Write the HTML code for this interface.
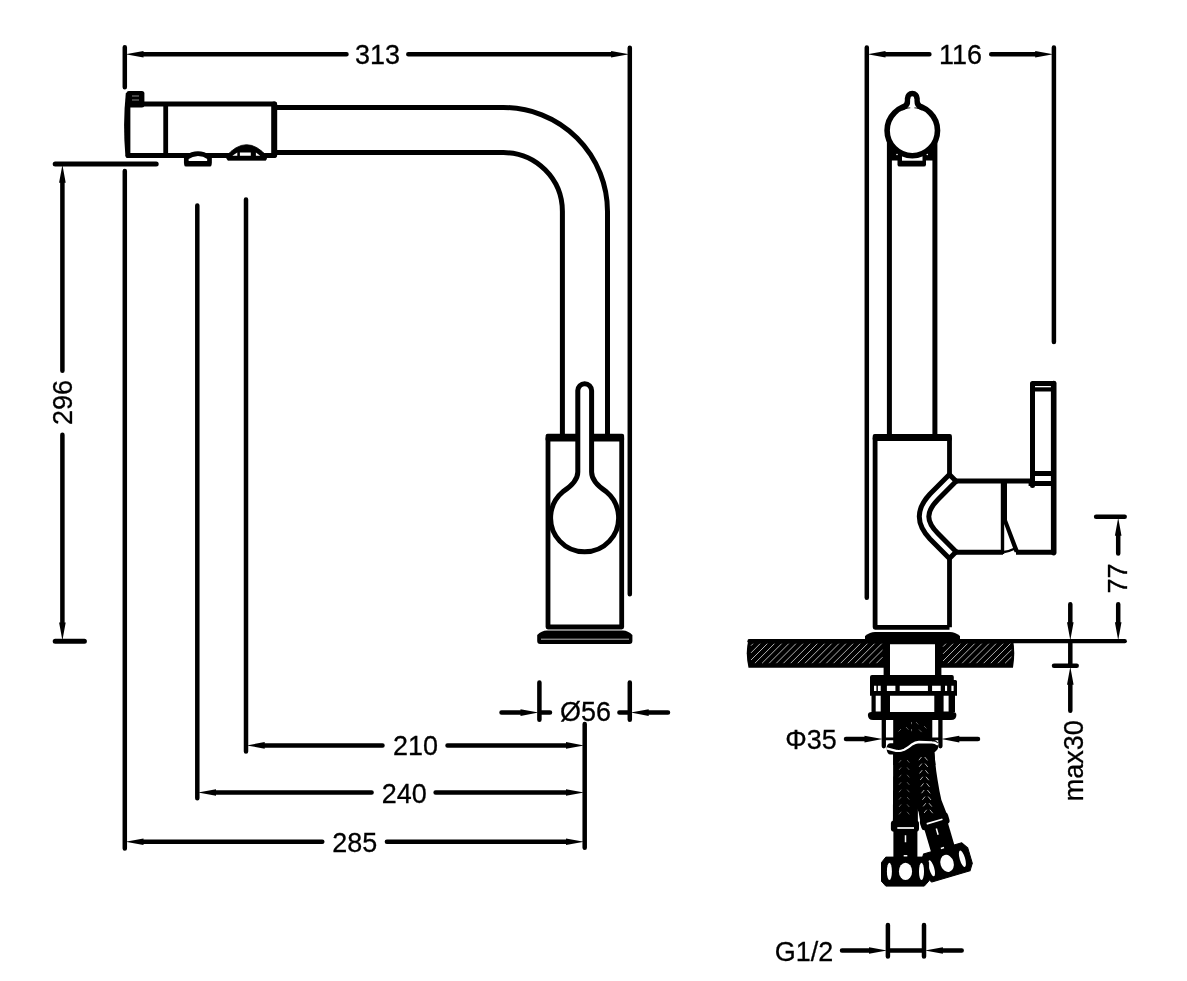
<!DOCTYPE html>
<html lang="en">
<head>
<meta charset="utf-8">
<title>Faucet dimensions</title>
<style>
html,body{margin:0;padding:0;background:#fff;}
body{width:1187px;height:981px;overflow:hidden;}
svg{display:block;filter:grayscale(1);}
.l{stroke:#000;stroke-linecap:round;stroke-linejoin:round;}
.b{stroke:#000;stroke-linecap:butt;stroke-linejoin:round;}
.k{fill:#000;stroke:none;}
.d{stroke-width:4.5;}
.w{fill:#fff;stroke:none;}
text{font-family:"Liberation Sans",sans-serif;font-size:28.4px;fill:#000;stroke:#000;stroke-width:.3;}
</style>
</head>
<body>
<svg width="1187" height="981" viewBox="0 0 1187 981" fill="none" stroke-width="4.8">
<rect width="1187" height="981" fill="#fff"/>

<!-- ============ LEFT VIEW ============ -->
<g id="dim313">
  <path class="l d" d="M124.8,47.2V87.3 M629.8,47.8V594.3 M142,54.2H346.5 M408.3,54.2H612.6"/>
  <path class="k" d="M125.5,54.2l18,-3.3v6.6Z M629.1,54.2l-18,-3.3v6.6Z"/>
  <text transform="translate(377.6,63.5) scale(.95,1)" text-anchor="middle">313</text>
</g>

<g id="extlines">
  <path class="l d" d="M124.8,171V848.5 M197.3,205.5V798.3 M246,199.5V751.4 M584.7,724V847.8"/>
</g>

<g id="dim296">
  <path class="l" stroke-width="5" d="M55.2,164H156.2 M55.2,641.3H84.4"/>
  <path class="l d" d="M62.4,182V370.8 M62.4,434.8V623.3"/>
  <path class="k" d="M62.4,164.7l3.3,18h-6.6Z M62.4,640.6l3.3,-18h-6.6Z"/>
  <text transform="translate(72,402.5) rotate(-90) scale(.95,1)" text-anchor="middle">296</text>
</g>

<g id="spray">
  <rect class="k" x="126.4" y="91" width="18" height="16.4" rx="2.5"/>
  <path d="M132,96H139 M132,100H139" stroke="#888" stroke-width="1" fill="none"/>
  <path class="l" d="M128,155.5H274.5V104H144" stroke-width="4.8"/>
  <path class="k" d="M125.8,93Q122.6,125 125.4,156Q125.6,157.9 127.5,157.9H130.4V93Z"/>
  <path class="b" d="M165.7,104V155.4"/>
  <path class="l" stroke-width="6" d="M274.2,104.6V154.9"/>
  <!-- tube -->
  <path class="b" stroke-width="5" d="M276,107.5H503.5A104,104 0 0 1 607.5,211.5V436"/>
  <path class="b" stroke-width="5" d="M276,152.6H503.5A58.9,58.9 0 0 1 562.4,211.5V436"/>
  <!-- nub 1 -->
  <path class="l" d="M186.3,163.3V157.5Q198,149.6 209.5,157.5V163.3Z" fill="#fff" stroke-width="4.7"/>
  <path class="l" d="M186,164.9H209.8" stroke-width="3.4"/>
  <!-- nub 2 -->
  <path class="k" d="M225.8,156.6Q246.5,132.8 267.3,156.6L265.8,160.2H227.8Z" style="stroke:#000;stroke-width:.8;stroke-linejoin:round"/>
  <path class="w" d="M239.9,152.4H250.8V155.8H239.9Z M232.3,155.8L237.3,152.4V155.8Z M260.2,155.8L255.9,152.4V155.8Z"/>
</g>

<g id="bodyL">
  <path class="b" d="M548,437.5V627H621.7V437.5"/>
  <rect class="k" x="545.6" y="433.8" width="78.5" height="7.6" rx="2"/>
  <path class="k" d="M547,630.5H623Q628,630.5 632.4,635V641Q632.4,644 629.4,644H540.2Q537.2,644 537.2,641V635Q541.5,630.5 547,630.5Z"/>
  <path d="M541,639.2H629" stroke="#bbb" stroke-width="1" fill="none"/>
  <!-- handle -->
  <path class="l" stroke-width="5" fill="#fff" d="M577.8,472V390.6A6.9,6.9 0 0 1 591.6,390.6V472Q591.6,482 606.2,491.6A34,34 0 1 1 563,491.6Q577.8,482 577.8,472Z"/>
</g>

<g id="dim56">
  <path class="l d" d="M539.4,682.5V719.8 M629.8,682.5V719.8 M501.5,712.6H521 M539.4,712.6H550 M619.4,712.6H629.8 M648.2,712.6H668"/>
  <path class="k" d="M538.5,712.6l-18,-3.3v6.6Z M630.7,712.6l18,-3.3v6.6Z"/>
  <text transform="translate(585.4,721.3) scale(.95,1)" text-anchor="middle">Ø56</text>
</g>

<g id="dimsBottom">
  <path class="l d" d="M263.5,745.4H382.5 M447.5,745.4H567 M214.8,792.5H371.6 M435.6,792.5H567 M142.3,841.8H322.3 M386.9,841.8H567"/>
  <path class="k" d="M246.7,745.4l18,-3.3v6.6Z M584,745.4l-18,-3.3v6.6Z M198,792.5l18,-3.3v6.6Z M584,792.5l-18,-3.3v6.6Z M125.5,841.8l18,-3.3v6.6Z M584,841.8l-18,-3.3v6.6Z"/>
  <text transform="translate(415.4,754.7) scale(.95,1)" text-anchor="middle">210</text>
  <text transform="translate(404.2,802.7) scale(.95,1)" text-anchor="middle">240</text>
  <text transform="translate(354.8,851.7) scale(.95,1)" text-anchor="middle">285</text>
</g>

<!-- ============ RIGHT VIEW ============ -->
<g id="dim116">
  <path class="l d" d="M866.8,47.5V597.8 M1053.9,47.5V342 M884.3,54.3H929.4 M991.2,54.3H1036.4"/>
  <path class="k" d="M867.5,54.3l18,-3.3v6.6Z M1053.2,54.3l-18,-3.3v6.6Z"/>
  <text transform="translate(960.4,63.5) scale(.95,1)" text-anchor="middle">116</text>
</g>

<g id="spoutR">
  <path class="b" stroke-width="5" d="M889.4,140V436 M934.9,140V436"/>
  <!-- aerator -->
  <path class="k" d="M889.4,135H934.9V160.6H889.4Z"/>
  <path class="k" d="M897.5,157H926V164.4Q926,166.6 923.8,166.6H899.7Q897.5,166.6 897.5,164.4Z"/>
  <path class="w" d="M902,154H922.5V160.7H902Z"/>
  <circle cx="912.3" cy="130.5" r="25.2" fill="#fff" stroke="#000" stroke-width="5.6"/>
  <circle class="w" cx="897" cy="154.5" r="0.8"/><circle class="w" cx="927.3" cy="154.5" r="0.8"/>
  <path class="l" stroke-width="5.6" fill="#fff" d="M903,107.5Q907.6,105.5 907.6,101V98.2A4.7,4.7 0 0 1 917,98.2V101Q917,105.5 921.6,107.5"/>
  <path class="w" d="M910.3,99H914.3V112H910.3Z"/>
</g>

<g id="bodyR">
  <path class="b" d="M875.1,437.5V627.3H949.5 M949.5,437.5V475 M949.5,558V627.3"/>
  <rect class="k" x="872.7" y="433.9" width="79.2" height="7.2" rx="2"/>
  <!-- joint -->
  <path class="l" stroke-width="5" d="M956.1,481.3L949.4,474.6L930,494Q919.3,505.5 919.3,516.5Q919.3,527.5 930,539L949.4,558.4L956.1,551.7"/>
  <path class="l" stroke-width="5" d="M956.1,481.3L938,499.4Q928.8,508.8 928.8,516.5Q928.8,524.2 938,533.6L956.1,551.7"/>
  <!-- arm -->
  <path class="b" stroke-width="5" d="M955,481H1031 M955,552.3H1003 M1016,552.3H1054"/>
  <path class="k" d="M1000.8,481H1007V520L1019.4,552.3H1014.6L1004.2,524V554H1000.8Z"/>
  <path d="M1004,552 Q1010,551 1015,548.5" stroke="#000" stroke-width="2.5" fill="none"/>
  <!-- lever -->
  <path class="l" stroke-width="5" d="M1032.5,485.5V383.6H1053.6"/>
  <path class="l" stroke-width="5.6" d="M1053.7,383.6V552.6"/>
  <path class="b" stroke-width="4.2" d="M1033,389.4H1053"/>
  <path class="b" stroke-width="5" d="M1028.6,483.6H1053 M1033,473.5H1053"/>
  <!-- base -->
  <path class="k" d="M875,632H950Q955,632 960,636V640H865V636Q870,632 875,632Z"/>
</g>

<g id="counter">
  <path class="l" stroke-width="4.2" d="M749.5,641.2H1124.8"/>
  <path class="k" d="M748.5,639.2H1013Q1015.5,653 1013,667.7H748.5Q745,653 748.5,639.2Z"/>
  <path stroke="#b0b0b0" stroke-width="1" fill="none" d="M751.0,645.7L753.0,643.7M751.0,652.9L760.1,643.7M751.0,660.0L767.3,643.7M754.9,663.2L774.4,643.7M762.1,663.2L781.6,643.7M769.2,663.2L788.7,643.7M776.4,663.2L795.9,643.7M783.5,663.2L803.0,643.7M790.7,663.2L810.2,643.7M797.8,663.2L817.3,643.7M805.0,663.2L824.5,643.7M812.1,663.2L831.6,643.7M819.3,663.2L838.8,643.7M826.4,663.2L845.9,643.7M833.6,663.2L853.1,643.7M840.7,663.2L860.2,643.7M847.9,663.2L867.4,643.7M855.0,663.2L874.5,643.7M862.2,663.2L881.7,643.7M869.3,663.2L882.5,650.0M876.5,663.2L882.5,657.2M943.0,646.7L946.0,643.7M943.0,653.9L953.1,643.7M943.0,661.0L960.3,643.7M947.9,663.2L967.4,643.7M955.1,663.2L974.6,643.7M962.2,663.2L981.7,643.7M969.4,663.2L988.9,643.7M976.5,663.2L996.0,643.7M983.7,663.2L1003.2,643.7M990.8,663.2L1010.3,643.7M998.0,663.2L1011.5,649.7M1005.1,663.2L1011.5,656.8"/>
</g>

<g id="nut">
  <!-- shank through counter -->
  <path class="k" d="M883.6,640H941.4V676H883.6Z"/>
  <path class="w" d="M890,644.3H935V675H890Z"/>
  <!-- nut top bar -->
  <path class="k" d="M872,675H952Q953.8,675 953.8,677V680H955.5Q957,680 957,681.5V695.7H870V677Q870,675 872,675Z"/>
  <path class="w" d="M874,685.7H876.4V691H874Z M877.9,685.7H880.7V691H877.9Z M886.9,685.7H895.4V691H886.9Z M899.7,685.7H927.9V691H899.7Z M932.1,685.7H940.7V691H932.1Z M945,685.7H947.1V691H945Z M951.4,685.7H953.6V691H951.4Z"/>
  <path class="k" d="M871.5,695H955V712H871.5Z"/>
  <path class="w" d="M875.7,695.7H880.7V711.4H875.7Z M890,695.7H934.3V714H890Z M943.6,695.7H948.6V711.4H943.6Z"/>
  <path class="k" d="M871.5,712H953Q956.4,712 956.4,715Q956.4,720 951,720H873Q867.9,720 867.9,715Q867.9,712 871.5,712Z"/>
  <!-- rods -->
  <path class="l" style="stroke-width:4.3" d="M883.8,720V746.3 M940.4,720V746.3"/>
</g>

<g id="hoses">
  <!-- dimension line behind hose, between rods -->
  <path class="b" style="stroke-width:2.8" d="M883.6,738.8H940.3"/>
  <!-- upper hose stub -->
  <path class="k" d="M893.2,714H932.3V739Q936.2,740 938,742.6V744.6Q935,742.4 932,742.4L919,742Q915,742.5 912.4,744.2Q908,748 904.2,749.8Q900,751.5 897,751L886.5,748.3Q887,743.2 890.5,743.2H893.2Z"/>
  <!-- lower hoses start -->
  <path class="k" d="M886.5,748.3L897,751Q900,751.5 904.2,749.8Q908,748 912.4,744.2Q915,742.5 919,742L932,742.4Q935,742.4 938,744.6Q939,748 936.5,750.5L934.4,752.5L935.5,765H893.2V754.6H890.5Q887,754.6 886.5,748.3Z"/>
  <path d="M886.5,748.3L897,751Q900,751.5 904.2,749.8Q908,748 912.4,744.2Q915,742.5 919,742L932,742.4Q935,742.4 938,744.6" stroke="#fff" stroke-width="2.3" fill="none"/>
  <!-- right hose -->
  <path class="k" d="M910,755L934.4,752.5Q935.5,768 937.6,780Q939.3,791 941.4,800L945.4,810.2L948.6,819L921,826L918.6,812L913,800Z"/>
  <g transform="translate(946.8,862.4) rotate(-16.4)">
    <rect class="k" x="-14.6" y="-48.4" width="29.2" height="11.4" rx="3.2"/>
    <rect class="k" x="-12.2" y="-40" width="24.4" height="28"/>
    <path class="k" d="M-19.9,-14.6H19.9L24.2,-8V8L19.9,14.6H-19.9L-24.2,8V-8Z" stroke-linejoin="round" style="stroke:#000;stroke-width:1"/>
    <path d="M-8.4,-42.6H8" stroke="#fff" stroke-width="1.7"/>
    <path d="M-0.5,-35.4V-29 M-1.8,-15H1.5" stroke="#fff" stroke-width="1.5"/>
    <ellipse class="w" cx="0" cy="1" rx="6.6" ry="8.7"/>
    <ellipse class="w" cx="16" cy="0.9" rx="2.7" ry="8.5"/>
    <ellipse class="w" cx="-16.2" cy="1.4" rx="2.5" ry="8.3"/>
  </g>
  <!-- left hose -->
  <path class="k" d="M893.2,752H916.5L917.9,800V822H892.9Z"/>
  <rect class="k" x="890.9" y="820.4" width="28.1" height="11.4" rx="3.2"/>
  <rect class="k" x="893.4" y="830" width="24" height="28"/>
  <path class="k" d="M885.8,857.1H924.3L928.6,862.5V881.3L924.3,886.1H885.8L881.5,881.3V862.5Z" stroke-linejoin="round" style="stroke:#000;stroke-width:1"/>
  <path d="M897.3,828H914" stroke="#fff" stroke-width="1.7"/>
  <path d="M905.5,835.2V842.3 M903.7,855.8H907.3" stroke="#fff" stroke-width="1.5"/>
  <ellipse class="w" cx="889.4" cy="871.4" rx="2.5" ry="8.6"/>
  <ellipse class="w" cx="905.5" cy="871.4" rx="6.6" ry="8.7"/>
  <ellipse class="w" cx="921.5" cy="871.4" rx="2.5" ry="8.6"/>
  <path d="M918.9,760.2l2.6,-3.2M924.7,757.0l2.8,3.4M919.2,766.8l2.6,-3.2M925.0,763.6l2.8,3.4M919.6,773.4l2.6,-3.2M925.4,770.2l2.8,3.4M920.2,780.0l2.6,-3.2M926.0,776.8l2.8,3.4M920.9,786.6l2.6,-3.2M926.7,783.4l2.8,3.4M921.6,793.2l2.6,-3.2M927.4,790.0l2.8,3.4M922.4,799.8l2.6,-3.2M928.2,796.6l2.8,3.4M923.2,806.4l2.6,-3.2M929.0,803.2l2.8,3.4M924.1,813.0l2.6,-3.2M929.9,809.8l2.8,3.4" stroke="#c4c4c4" stroke-width="0.9" fill="none"/>
  <path d="M899.0,762.6l2.2,-2.6M907.1,760.0l2.2,2.6M899.0,770.0l2.2,-2.6M907.1,767.4l2.2,2.6M899.0,777.4l2.2,-2.6M907.1,774.8l2.2,2.6M899.0,784.8l2.2,-2.6M907.1,782.2l2.2,2.6M899.0,792.2l2.2,-2.6M907.1,789.6l2.2,2.6M899.0,799.6l2.2,-2.6M907.1,797.0l2.2,2.6M899.0,807.0l2.2,-2.6M907.1,804.4l2.2,2.6M899.0,814.4l2.2,-2.6M907.1,811.8l2.2,2.6M901,729l-2.4,2.4M906,727l2.4,2.6M911.5,722l0,2.2M911.5,729l0,2.2M919,729.5l2.6,2.6M924,726l2.4,2.4M916,722l2.2,2.4" stroke="#6a6a6a" stroke-width="0.9" fill="none"/>
</g>

<g id="dim35">
  <path class="l d" d="M846,739.1H865.5 M958.3,739.1H978"/>
  <path class="k" d="M882.5,739.1l-18,-3.3v6.6Z M941.3,739.1l18,-3.3v6.6Z"/>
  <text transform="translate(810.9,748.9) scale(.95,1)" text-anchor="middle">Φ35</text>
</g>

<g id="dim77">
  <path class="l d" d="M1096.1,516.8H1124.7 M1118.2,535.5V553.4 M1118.2,604.2V622.5"/>
  <path class="k" d="M1118.2,517.7l3.3,18h-6.6Z M1118.2,640.3l3.3,-18h-6.6Z"/>
  <text transform="translate(1127.4,578.6) rotate(-90) scale(.95,1)" text-anchor="middle">77</text>
</g>

<g id="dimmax30">
  <path class="l d" d="M1054,665.8H1076.7 M1070.3,604.2V622.5 M1070.3,641V665 M1070.3,684.5V710.8"/>
  <path class="k" d="M1070.3,640.3l3.3,-18h-6.6Z M1070.3,666.7l3.3,18h-6.6Z"/>
  <text transform="translate(1082.6,760.7) rotate(-90) scale(.95,1)" text-anchor="middle">max30</text>
</g>

<g id="dimG">
  <path class="l d" d="M842,950.5H870 M887.9,950.5H924 M942,950.5H961.7 M887.9,925V956.6 M924,925V956.6"/>
  <path class="k" d="M887,950.5l-18,-3.3v6.6Z M924.9,950.5l18,-3.3v6.6Z"/>
  <text transform="translate(804.1,961.2) scale(.95,1)" text-anchor="middle">G1/2</text>
</g>

</svg>
</body>
</html>
